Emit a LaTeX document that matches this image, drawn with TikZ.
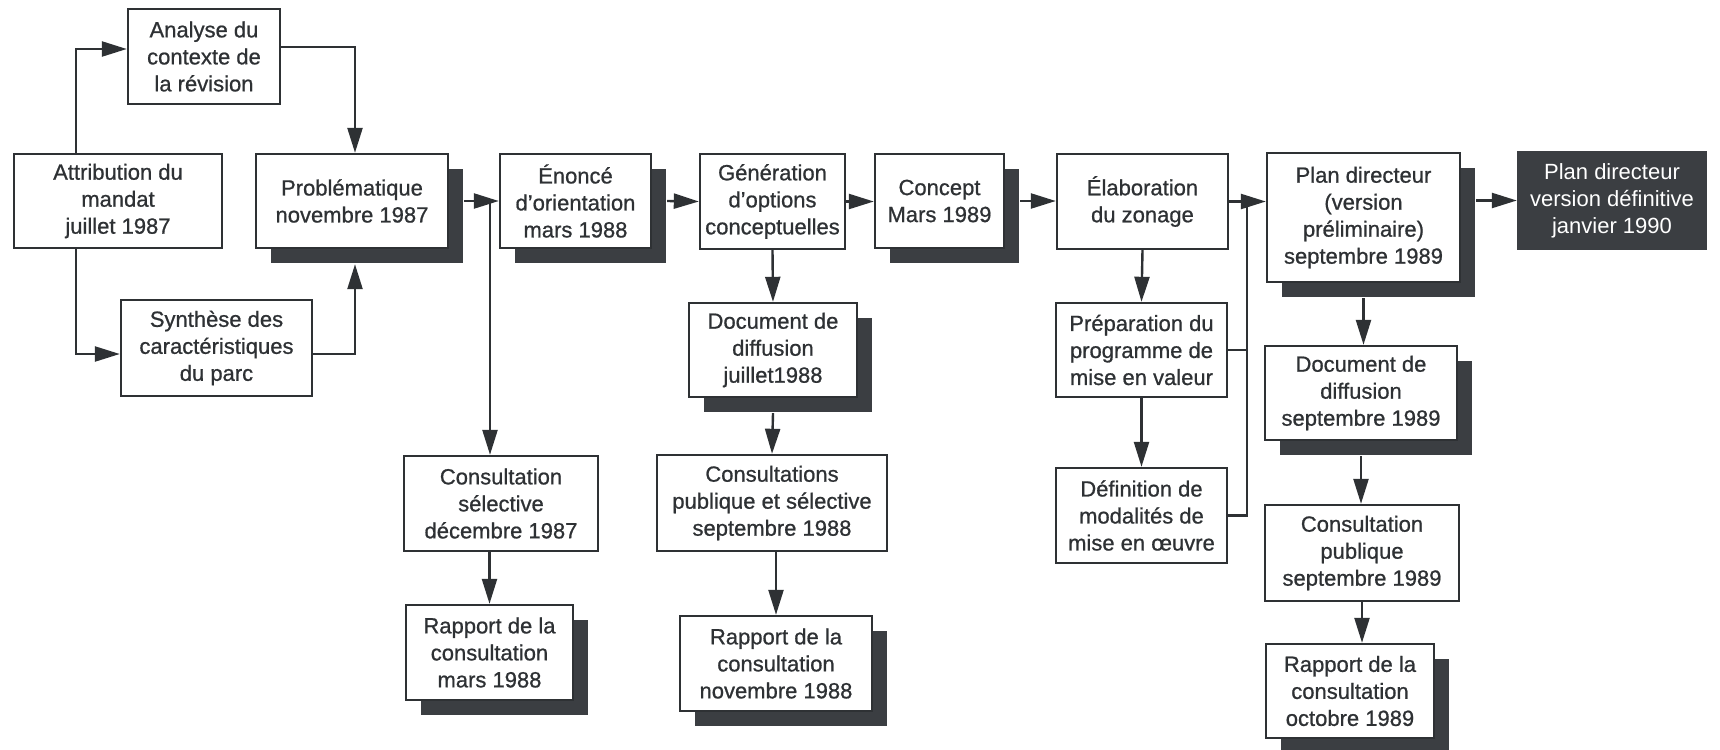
\documentclass[tikz,border=0pt]{standalone}
\usepackage{fontspec}
\setmainfont{Liberation Sans}
\newfontfamily\medfont{Liberation Sans}[BoldFont={Liberation Sans},BoldFeatures={FakeBold=0.8}]
\usetikzlibrary{arrows.meta,shadows,calc}
\definecolor{ink}{HTML}{2E3134}
\definecolor{shc}{HTML}{3B3E42}
\begin{document}
\begin{tikzpicture}[x=0.5pt,y=-0.5pt,
  box/.style={rectangle,draw=ink,line width=1.2pt,fill=white,inner sep=0pt,align=center,
    text=ink,font=\medfont\bfseries\fontsize{11}{13.5}\selectfont,minimum height=47pt},
  shbox/.style={box,drop shadow={shadow xshift=7.5pt,shadow yshift=-7.5pt,fill=shc,opacity=1}},
  darkbox/.style={box,fill=shc,draw=shc,text=white,font=\fontsize{11}{13.5}\selectfont},
  conn/.style={draw=ink,line width=1.2pt},
  arr/.style={conn,-{Triangle[length=12.5pt,width=7.5pt]}}]
\useasboundingbox (0,0) rectangle (1720,750);
\fill[white] (0,0) rectangle (1720,750);
% nodes
\node[box,minimum width=104pt] (attr) at (118,201) {Attribution du\\mandat\\juillet 1987};
\node[box,minimum width=76pt,minimum height=47.5pt] (analyse) at (204,56.5) {Analyse du\\contexte de\\la révision};
\node[box,minimum width=95.5pt,minimum height=48pt] (synth) at (216.5,348) {Synthèse des\\caractéristiques\\du parc};
\node[shbox,minimum width=96pt] (prob) at (352,201) {Problématique\\novembre 1987};
\node[shbox,minimum width=75.5pt] (enonce) at (575.5,201) {Énoncé\\d’orientation\\mars 1988};
\node[box,minimum width=72.5pt,minimum height=47.5pt] (gen) at (772.5,201.5) {Génération\\d’options\\conceptuelles};
\node[shbox,minimum width=64.5pt] (concept) at (939.5,201) {Concept\\Mars 1989};
\node[box,minimum width=85.5pt,minimum height=47.5pt] (elab) at (1142.5,201.5) {Élaboration\\du zonage};
\node[shbox,minimum width=96.5pt,minimum height=64.5pt] (plan) at (1363.5,217.5) {Plan directeur\\(version\\préliminaire)\\septembre 1989};
\node[darkbox,minimum width=94pt,minimum height=48.5pt] (final) at (1612,200.5) {Plan directeur\\version définitive\\janvier 1990};
\node[box,minimum width=97pt,minimum height=47.5pt] (consel) at (501,503.5) {Consultation\\sélective\\décembre 1987};
\node[shbox,minimum width=83.5pt,minimum height=47.5pt] (rap1) at (489.5,652.5) {Rapport de la\\consultation\\mars 1988};
\node[shbox,minimum width=84pt] (doc1) at (773,350) {Document de\\diffusion\\juillet1988};
\node[box,minimum width=115pt,minimum height=48pt] (conspub) at (772,503) {Consultations\\publique et sélective\\septembre 1988};
\node[shbox,minimum width=96pt,minimum height=47.5pt] (rap2) at (776,663.5) {Rapport de la\\consultation\\novembre 1988};
\node[box,minimum width=85.5pt] (prep) at (1141.5,350) {Préparation du\\programme de\\mise en valeur};
\node[box,minimum width=85.5pt,minimum height=47.5pt] (def) at (1141.5,515.5) {Définition de\\modalités de\\mise en œuvre};
\node[shbox,minimum width=96pt] (doc2) at (1361,393) {Document de\\diffusion\\septembre 1989};
\node[box,minimum width=97pt,minimum height=48pt] (conspub2) at (1362,553) {Consultation\\publique\\septembre 1989};
\node[shbox,minimum width=84pt] (rap3) at (1350,691) {Rapport de la\\consultation\\octobre 1989};
% junctions
\coordinate (j1) at (490,202);
\coordinate (j2) at (1247,202);
\coordinate (probsh) at ([xshift=7.5pt]prob.east);
\coordinate (enoncesh) at ([xshift=7.5pt]enonce.east);
\coordinate (conceptsh) at ([xshift=7.5pt]concept.east);
\coordinate (plansh) at ([xshift=7.5pt]plan.east);
% connectors
\draw[arr] ([xshift=31.5pt]attr.north west) |- ([yshift=3.75pt]analyse.west);
\draw[arr] ([xshift=31.5pt]attr.south west) |- ([yshift=-3pt]synth.west);
\draw[arr] ([yshift=4.75pt]analyse.east) -| ([xshift=1.5pt]prob.north);
\draw[arr] ([yshift=-3pt]synth.east) -| ([xshift=1.5pt,yshift=-7.5pt]prob.south);
\draw[arr] (probsh) -- (enonce.west);
\draw[arr] (j1) -- (j1 |- consel.north);
\draw[arr] (consel.south -| rap1.north) -- (rap1.north);
\draw[arr] (enoncesh) -- (gen.west);
\draw[arr] (gen.east) -- (gen.east -| concept.west);
\draw[arr] (gen.south) -- (doc1.north);
\draw[arr] ([yshift=-7.5pt]doc1.south) -- (conspub.north);
\draw[arr] (conspub.south -| rap2.north) -- (rap2.north);
\draw[arr] (conceptsh) -- (conceptsh -| elab.west);
\draw[arr] (elab.east) -- (elab.east -| plan.west);
\draw[arr] (elab.south) -- (prep.north);
\draw[arr] (prep.south) -- (def.north);
\draw[conn] (prep.east) -- (prep.east -| j2);
\draw[conn] (def.east) -| (j2);
\draw[arr] (plansh |- final.west) -- (final.west);
\draw[arr] ([yshift=-7.5pt]plan.south) -- (doc2.north -| plan.south);
\draw[arr] ([yshift=-7.5pt]doc2.south) -- (conspub2.north -| doc2.south);
\draw[arr] (conspub2.south) -- (conspub2.south |- rap3.north);
\end{tikzpicture}
\end{document}
